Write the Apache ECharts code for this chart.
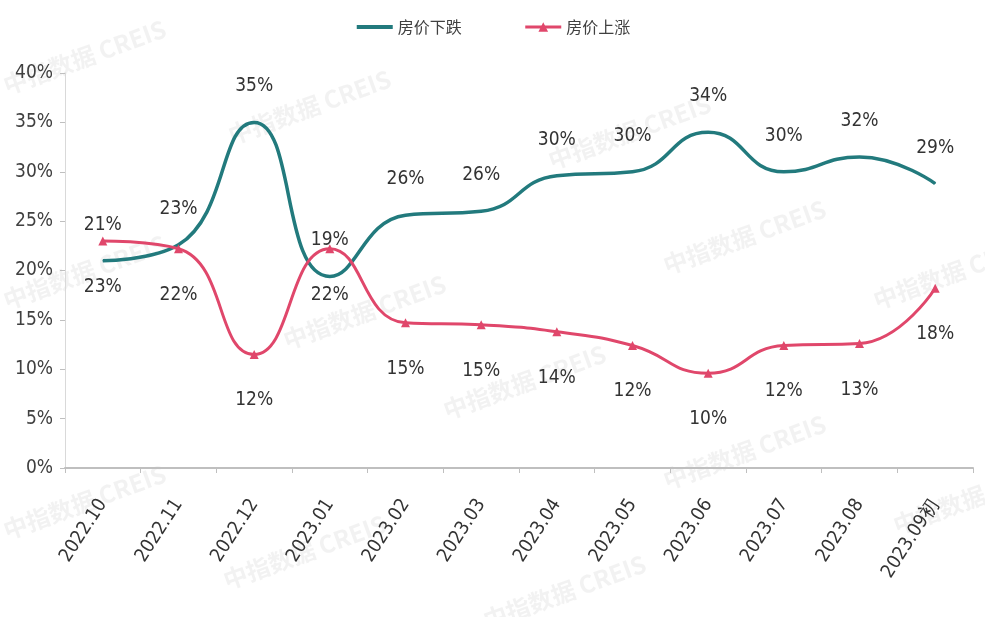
<!DOCTYPE html>
<html><head><meta charset="utf-8">
<script src="https://cdn.jsdelivr.net/npm/echarts@6/dist/echarts.min.js"></script>
<style>html,body{margin:0;padding:0;background:#fff}#c{width:985px;height:617px}</style>
</head><body><div id="c"></div>
<script>
const categories = ['2022.10','2022.11','2022.12','2023.01','2023.02','2023.03','2023.04','2023.05','2023.06','2023.07','2023.08','2023.09初'];
const fallValues = [21, 22.6, 35, 19.4, 25.6, 26, 29.6, 30, 34, 30, 31.5, 28.8];
const riseValues = [23, 22.2, 11.5, 22.2, 14.7, 14.5, 13.8, 12.4, 9.6, 12.4, 12.6, 18.2];
const yTicks = [0, 5, 10, 15, 20, 25, 30, 35, 40];
const narrow = '"Liberation Sans Narrow", "DejaVu Sans Condensed", Roboto, sans-serif';

const chart = echarts.init(document.getElementById('c'));
const wm = [];
[[0,75],[225,125],[545,150],[660,255],[0,290],[280,330],[440,400],[660,470],[870,290],[0,520],[220,570],[480,610],[890,515]].forEach(p=>{
  wm.push({type:'text', x:p[0], y:p[1], rotation:Math.PI*20/180, silent:true, z:-1,
    style:{text:'中指数据 CREIS', fill:'rgba(150,150,150,0.12)', font:'bold 24px "Noto Sans CJK SC", sans-serif'}});
});
chart.setOption({
  backgroundColor:'#fff',
  animation:false,
  graphic: wm,
  legend:{
    top:14, left:'center', itemGap:62, itemWidth:36, itemHeight:12,
    textStyle:{fontSize:16, color:'#404040', fontFamily:'"Noto Sans CJK SC", sans-serif'},
    data:[{name:'房价下跌', itemStyle:{opacity:0}, lineStyle:{width:4}}, {name:'房价上涨', lineStyle:{width:3}}]
  },
  grid:{left:65, right:12, top:73, bottom:149, containLabel:false},
  xAxis:{
    type:'category', data:categories, boundaryGap:true,
    axisLine:{lineStyle:{color:'#bfbfbf', width:2}},
    axisTick:{show:true, lineStyle:{color:'#bfbfbf'}, length:5},
    axisLabel:{rotate:57, fontSize:19, color:'#333', margin:33, interval:0, fontFamily:narrow}
  },
  yAxis:{
    type:'value', min:0, max:40, interval:5,
    axisLine:{show:true, lineStyle:{color:'#d9d9d9', width:1}},
    axisTick:{show:true, lineStyle:{color:'#bfbfbf'}, length:5},
    splitLine:{show:false},
    axisLabel:{fontSize:19, color:'#404040', margin:12, formatter:v=>v+'%', fontFamily:narrow}
  },
  series:[
    {name:'房价下跌', type:'line', data:fallValues, smooth:0.5, symbol:'circle', symbolSize:1, showSymbol:true,
     lineStyle:{color:'#227a7d', width:3.5}, itemStyle:{color:'#227a7d'},
     labelLayout:{hideOverlap:false},
     label:{show:true, position:'top', distance:26, fontSize:19, color:'#333', fontFamily:narrow,
       formatter:p=>Math.round(p.value)+'%'}},
    {name:'房价上涨', type:'line', data:riseValues, smooth:0.5, symbol:'triangle', symbolSize:9, showSymbol:true,
     lineStyle:{color:'#e0476b', width:3}, itemStyle:{color:'#e0476b'},
     labelLayout:{hideOverlap:false},
     label:{show:true, position:'bottom', distance:32, fontSize:19, color:'#333', fontFamily:narrow,
       formatter:p=>Math.round(p.value)+'%'}}
  ]
});
</script></body></html>
